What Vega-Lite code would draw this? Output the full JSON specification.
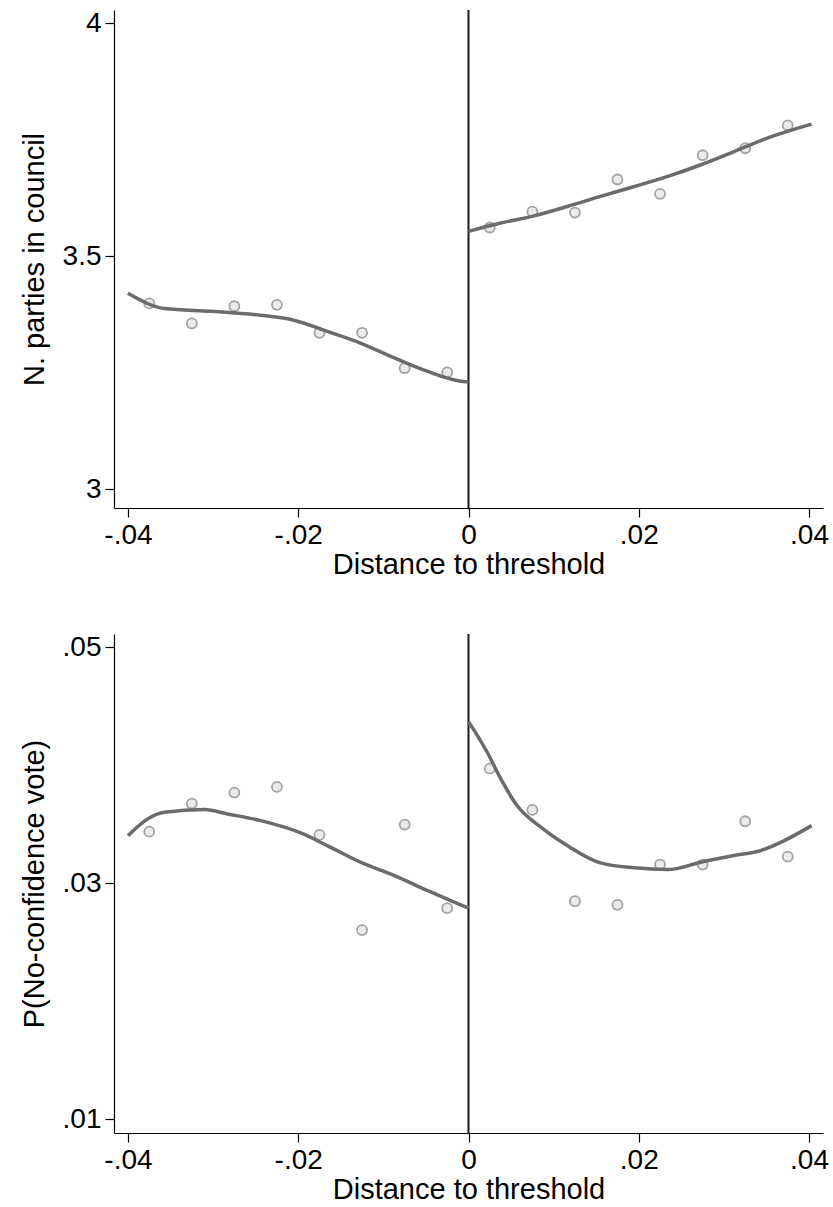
{
  "$schema": "https://vega.github.io/schema/vega-lite/v6.json",
  "padding": {"left": 20, "top": 9, "right": 4, "bottom": 5},
  "background": "white",
  "spacing": 54,
  "config": {
    "font": "Liberation Sans",
    "view": {"stroke": null},
    "axis": {
      "grid": false,
      "domainColor": "#000000",
      "domainWidth": 1.2,
      "tickColor": "#000000",
      "tickWidth": 1.2,
      "tickSize": 9,
      "labelFontSize": 28,
      "labelColor": "#000000",
      "labelFont": "Liberation Sans",
      "titleFont": "Liberation Sans",
      "titleFontSize": 29,
      "titleFontWeight": "normal",
      "titleColor": "#000000",
      "labelPadding": 4,
      "labelExpr": "replace('' + datum.value, '0.', '.')"
    }
  },
  "datasets": {
    "top_points": [
      {"x": -0.0375, "y": 3.399}, {"x": -0.0325, "y": 3.356}, {"x": -0.0275, "y": 3.393}, {"x": -0.0225, "y": 3.396},
      {"x": -0.0175, "y": 3.336}, {"x": -0.0125, "y": 3.336}, {"x": -0.0075, "y": 3.26}, {"x": -0.0025, "y": 3.251},
      {"x": 0.0025, "y": 3.562}, {"x": 0.0075, "y": 3.596}, {"x": 0.0125, "y": 3.594}, {"x": 0.0175, "y": 3.665},
      {"x": 0.0225, "y": 3.634}, {"x": 0.0275, "y": 3.717}, {"x": 0.0325, "y": 3.732}, {"x": 0.0375, "y": 3.781}
    ],
    "top_fit": [
      {"side": "L", "x": -0.04, "y": 3.4207}, {"side": "L", "x": -0.0357, "y": 3.388}, {"side": "L", "x": -0.0302, "y": 3.382},
      {"side": "L", "x": -0.0244, "y": 3.3735}, {"side": "L", "x": -0.0205, "y": 3.363}, {"side": "L", "x": -0.0166, "y": 3.339},
      {"side": "L", "x": -0.0127, "y": 3.314}, {"side": "L", "x": -0.0087, "y": 3.282}, {"side": "L", "x": -0.0048, "y": 3.253},
      {"side": "L", "x": -0.0009, "y": 3.232}, {"side": "L", "x": 0.0, "y": 3.2305},
      {"side": "R", "x": 0.0, "y": 3.5536}, {"side": "R", "x": 0.0038, "y": 3.5715}, {"side": "R", "x": 0.0077, "y": 3.587},
      {"side": "R", "x": 0.0116, "y": 3.607}, {"side": "R", "x": 0.0155, "y": 3.6286}, {"side": "R", "x": 0.0195, "y": 3.65},
      {"side": "R", "x": 0.0234, "y": 3.6715}, {"side": "R", "x": 0.0273, "y": 3.6966}, {"side": "R", "x": 0.0312, "y": 3.725},
      {"side": "R", "x": 0.0351, "y": 3.7537}, {"side": "R", "x": 0.0403, "y": 3.7837}
    ],
    "bot_points": [
      {"x": -0.0375, "y": 0.03437}, {"x": -0.0325, "y": 0.03675}, {"x": -0.0275, "y": 0.03768}, {"x": -0.0225, "y": 0.03816},
      {"x": -0.0175, "y": 0.03409}, {"x": -0.0125, "y": 0.02602}, {"x": -0.0075, "y": 0.03497}, {"x": -0.0025, "y": 0.02788},
      {"x": 0.0025, "y": 0.03971}, {"x": 0.0075, "y": 0.03621}, {"x": 0.0125, "y": 0.02847}, {"x": 0.0175, "y": 0.02816},
      {"x": 0.0225, "y": 0.03158}, {"x": 0.0275, "y": 0.03158}, {"x": 0.0325, "y": 0.03525}, {"x": 0.0375, "y": 0.03225}
    ],
    "bot_fit": [
      {"side": "L", "x": -0.04, "y": 0.03403}, {"side": "L", "x": -0.0377, "y": 0.03545}, {"side": "L", "x": -0.0357, "y": 0.03602},
      {"side": "L", "x": -0.031, "y": 0.03624}, {"side": "L", "x": -0.0283, "y": 0.03587}, {"side": "L", "x": -0.0244, "y": 0.0353},
      {"side": "L", "x": -0.0197, "y": 0.03426}, {"side": "L", "x": -0.0166, "y": 0.03319}, {"side": "L", "x": -0.0127, "y": 0.03178},
      {"side": "L", "x": -0.0087, "y": 0.03064}, {"side": "L", "x": -0.0048, "y": 0.02937}, {"side": "L", "x": 0.0, "y": 0.02788},
      {"side": "R", "x": 0.0, "y": 0.0437}, {"side": "R", "x": 0.0022, "y": 0.0411}, {"side": "R", "x": 0.0038, "y": 0.03884},
      {"side": "R", "x": 0.0057, "y": 0.03658}, {"side": "R", "x": 0.0085, "y": 0.03475}, {"side": "R", "x": 0.0116, "y": 0.03319},
      {"side": "R", "x": 0.0155, "y": 0.03172}, {"side": "R", "x": 0.0195, "y": 0.0313}, {"side": "R", "x": 0.0234, "y": 0.03115},
      {"side": "R", "x": 0.0273, "y": 0.03178}, {"side": "R", "x": 0.0312, "y": 0.03234}, {"side": "R", "x": 0.0343, "y": 0.03276},
      {"side": "R", "x": 0.0371, "y": 0.03361}, {"side": "R", "x": 0.0403, "y": 0.03488}
    ]
  },
  "vconcat": [
    {
      "width": 709,
      "height": 498,
      "layer": [
        {
          "data": {"values": [{"x0": 0}]},
          "mark": {"type": "rule", "color": "#1a1a1a", "strokeWidth": 2},
          "encoding": {"x": {"field": "x0", "type": "quantitative"}}
        },
        {
          "data": {"name": "top_points"},
          "mark": {"type": "point", "shape": "circle", "filled": false, "fill": "#ebebeb", "fillOpacity": 1, "stroke": "#a3a3a3", "strokeWidth": 1.8, "size": 100, "opacity": 1},
          "encoding": {
            "x": {"field": "x", "type": "quantitative"},
            "y": {"field": "y", "type": "quantitative"}
          }
        },
        {
          "data": {"name": "top_fit"},
          "mark": {"type": "line", "color": "#6b6b6b", "strokeWidth": 3.5, "interpolate": "monotone"},
          "encoding": {
            "x": {"field": "x", "type": "quantitative", "title": "Distance to threshold",
                  "scale": {"domain": [-0.04164, 0.04164], "nice": false, "zero": false},
                  "axis": {"values": [-0.04, -0.02, 0, 0.02, 0.04], "titlePadding": 1}},
            "y": {"field": "y", "type": "quantitative", "title": "N. parties in council",
                  "scale": {"domain": [2.96, 4.0287], "nice": false, "zero": false},
                  "axis": {"values": [3, 3.5, 4], "titlePadding": 13}},
            "detail": {"field": "side"}
          }
        }
      ]
    },
    {
      "width": 709,
      "height": 499,
      "layer": [
        {
          "data": {"values": [{"x0": 0}]},
          "mark": {"type": "rule", "color": "#1a1a1a", "strokeWidth": 2},
          "encoding": {"x": {"field": "x0", "type": "quantitative"}}
        },
        {
          "data": {"name": "bot_points"},
          "mark": {"type": "point", "shape": "circle", "filled": false, "fill": "#ebebeb", "fillOpacity": 1, "stroke": "#a3a3a3", "strokeWidth": 1.8, "size": 100, "opacity": 1},
          "encoding": {
            "x": {"field": "x", "type": "quantitative"},
            "y": {"field": "y", "type": "quantitative"}
          }
        },
        {
          "data": {"name": "bot_fit"},
          "mark": {"type": "line", "color": "#6b6b6b", "strokeWidth": 3.5, "interpolate": "monotone"},
          "encoding": {
            "x": {"field": "x", "type": "quantitative", "title": "Distance to threshold",
                  "scale": {"domain": [-0.04164, 0.04164], "nice": false, "zero": false},
                  "axis": {"values": [-0.04, -0.02, 0, 0.02, 0.04], "titlePadding": 1}},
            "y": {"field": "y", "type": "quantitative", "title": "P(No-confidence vote)",
                  "scale": {"domain": [0.008814, 0.05113], "nice": false, "zero": false},
                  "axis": {"values": [0.01, 0.03, 0.05], "titlePadding": 13}},
            "detail": {"field": "side"}
          }
        }
      ]
    }
  ]
}
